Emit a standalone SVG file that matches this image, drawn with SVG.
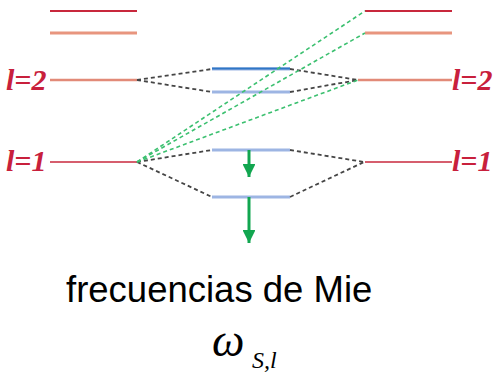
<svg xmlns="http://www.w3.org/2000/svg" width="495" height="373" viewBox="0 0 495 373">
<defs>
<style>
.red{stroke:#c8283c;stroke-width:2;fill:none}
.ora{stroke:#e8957e;stroke-width:3;fill:none}
.ora2{stroke:#e28a78;stroke-width:2.5;fill:none}
.lb{stroke:#9db5e3;stroke-width:3;fill:none}
.db{stroke:#2f76c6;stroke-width:2;fill:none}
.bk{stroke:#454545;stroke-width:1.8;stroke-dasharray:4 3;fill:none}
.gr{stroke:#3cc070;stroke-width:1.6;stroke-dasharray:4 3;fill:none}
.arr{stroke:#12a650;stroke-width:3;fill:none}
.lab{font-family:"Liberation Serif",serif;font-style:italic;font-weight:bold;font-size:30px;fill:#c8203c}
.txt{font-family:"Liberation Sans",Arial,sans-serif;font-size:36.5px;fill:#000}
.om{font-family:"Liberation Serif",serif;font-style:italic;fill:#000}
</style>
<marker id="ah" viewBox="0 0 10 10" refX="10" refY="5" markerWidth="4.3" markerHeight="4.3" orient="auto" markerUnits="strokeWidth">
<path d="M0,0 L10,5 L0,10 z" fill="#12a650"/>
</marker>
</defs>
<g id="left-levels">
<line class="red" x1="50" y1="11" x2="137" y2="11"/>
<line class="ora" x1="50" y1="33" x2="137" y2="33"/>
<line class="ora2" x1="50" y1="80" x2="137" y2="80"/>
<line class="red" x1="50" y1="162" x2="137" y2="162" style="stroke-width:1.6"/>
</g>
<g id="right-levels">
<line class="red" x1="365" y1="11" x2="452" y2="11"/>
<line class="ora" x1="365" y1="33" x2="452" y2="33"/>
<line class="ora2" x1="358" y1="80" x2="452" y2="80"/>
<line class="red" x1="365" y1="162" x2="452" y2="162" style="stroke-width:1.6"/>
</g>
<g id="mid-levels">
<line class="lb" x1="212" y1="69" x2="290" y2="69"/>
<line class="db" x1="212" y1="68.5" x2="290" y2="68.5"/>
<line class="lb" x1="212" y1="92" x2="290" y2="92"/>
<line class="lb" x1="212" y1="150" x2="290" y2="150"/>
<line class="lb" x1="212" y1="197" x2="290" y2="197"/>
</g>
<g id="connectors">
<line class="bk" x1="137" y1="80" x2="212" y2="69"/>
<line class="bk" x1="137" y1="80" x2="212" y2="92"/>
<line class="bk" x1="290" y1="69" x2="358" y2="80"/>
<line class="bk" x1="290" y1="92" x2="358" y2="80"/>
<line class="bk" x1="137" y1="162" x2="212" y2="150"/>
<line class="bk" x1="137" y1="162" x2="212" y2="197"/>
<line class="bk" x1="290" y1="150" x2="364" y2="162"/>
<line class="bk" x1="290" y1="197" x2="364" y2="162"/>
<line class="gr" x1="137" y1="162" x2="365" y2="11"/>
<line class="gr" x1="137" y1="162" x2="365" y2="33"/>
<line class="gr" x1="137" y1="162" x2="358" y2="80"/>
<line class="arr" x1="249" y1="150" x2="249" y2="177" marker-end="url(#ah)"/>
<line class="arr" x1="249" y1="197" x2="249" y2="243" marker-end="url(#ah)"/>
</g>
<g id="labels">
<text class="lab" x="6" y="90">l=2</text>
<text class="lab" x="6" y="171">l=1</text>
<text class="lab" x="452" y="90">l=2</text>
<text class="lab" x="452" y="171">l=1</text>
</g>
<g id="caption">
<text class="txt" x="66" y="302">frecuencias de Mie</text>
<text class="om" x="212" y="356" font-size="46">ω</text>
<text class="om" x="252" y="368" font-size="24">S,l</text>
</g>
</svg>
